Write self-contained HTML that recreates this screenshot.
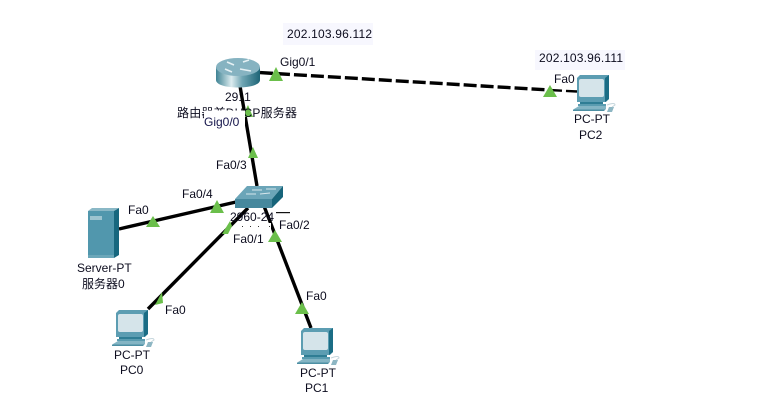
<!DOCTYPE html>
<html>
<head>
<meta charset="utf-8">
<style>
html,body{margin:0;padding:0;background:#fff;width:776px;height:409px;overflow:hidden}
svg{display:block}
text{font-family:"Liberation Sans","Noto Sans CJK SC",sans-serif;font-size:12px;fill:#0c0c1e}
</style>
</head>
<body>
<svg width="776" height="409" viewBox="0 0 776 409" xmlns="http://www.w3.org/2000/svg">
<defs>
<linearGradient id="rg" x1="0" x2="1" y1="0" y2="0">
<stop offset="0" stop-color="#3f8394"/><stop offset=".35" stop-color="#dcecef"/><stop offset=".6" stop-color="#6fa5b3"/><stop offset="1" stop-color="#1d6476"/>
</linearGradient>
<g id="pc">
<polygon points="0,3 3,0 32,0 32,24 29,27 0,27" fill="#5c9db2"/>
<polygon points="28,3 32,0 32,24 28,27" fill="#1b6d85"/>
<rect x="2" y="4" width="25" height="18" rx="2" fill="#d5e4ea"/>
<rect x="3" y="27" width="23" height="2" fill="#2f7d94"/>
<rect x="1" y="29" width="28" height="2" fill="#5a9cb0"/>
<polygon points="2,31 29,31 29,34 27,36 -4,36 -3,34" fill="#84b5c4"/>
<polygon points="-4,34.5 28,34.5 27,36 -4,36" fill="#4d8fa3"/>
<polygon points="32,32 37,32 35,37 30,37" fill="#8db6c3"/>
<path d="M30 30 Q38 27 38 30 L35 32" fill="none" stroke="#c5d6dc" stroke-width="1"/>
</g>
</defs>
<rect width="776" height="409" fill="#fff"/>

<!-- router base labels under the links -->
<text x="225" y="101">2911</text>

<!-- links -->
<g stroke="#000" stroke-width="3.4" fill="none">
<line x1="260" y1="72.6" x2="549" y2="90" stroke-dasharray="13 4"/>
<line x1="549" y1="90" x2="577" y2="91.5" stroke-dasharray="13 4" stroke-width="2.4"/>
<line x1="240" y1="86" x2="257" y2="186"/>
<line x1="236" y1="202" x2="119" y2="229"/>
<line x1="248" y1="208" x2="148" y2="309"/>
<line x1="264" y1="206" x2="311" y2="328"/>
</g>

<!-- router -->
<path d="M216 67 V80 C216 90 260 90 260 80 V67 Z" fill="url(#rg)"/>
<ellipse cx="238" cy="67" rx="22" ry="9" fill="#86b3c1"/>
<g stroke="#e6f1f4" stroke-width="1.6" fill="none">
<path d="M227 62 L234 65 M232 72 L225 69 M243 62 L249 60 M240 69 L251 71"/>
</g>

<!-- switch -->
<polygon points="235,199 247,186 283,186 272,199" fill="#6ba5b8"/>
<polygon points="272,199 283,186 283,197 272,208" fill="#17647a"/>
<rect x="235" y="199" width="37" height="9" fill="#46889d"/>
<g stroke="#d6e6ec" stroke-width="1" fill="none">
<path d="M252 190 L262 190 M266 189 L276 189 M246 194 L256 194 M260 194 L270 193"/>
</g>

<!-- server -->
<polygon points="88,211 92,208 119,208 114,211" fill="#8ab8c6"/>
<rect x="88" y="211" width="26" height="47" fill="#5197ad"/>
<polygon points="114,211 119,208 119,255 114,258" fill="#17677e"/>
<rect x="90" y="216" width="12" height="4" fill="#9cc4d0"/>
<rect x="88" y="255" width="26" height="3" fill="#6ba7b9"/>

<!-- PCs -->
<use href="#pc" x="577" y="75"/>
<use href="#pc" x="116" y="310"/>
<use href="#pc" x="301" y="328"/>

<!-- link lights -->
<g fill="#6bbf4b">
<polygon points="269,81 276,67 283,81"/>
<polygon points="543,97 550,85 557,97"/>
<polygon points="242,117 248,105 253,117"/>
<polygon points="248,158 253,147 258,158"/>
<polygon points="210,213 217,200 224,213"/>
<polygon points="146,227 153,216 160,227"/>
<polygon points="222,234 230,221 232,226 228,234"/>
<polygon points="268,242 275,230 282,242"/>
<polygon points="155,305 162,292 163,303"/>
<polygon points="295,314 302,302 309,314"/>
</g>

<!-- labels -->
<rect x="283" y="23" width="90" height="22" fill="#f7f7fe"/>
<text x="287" y="38" textLength="85" lengthAdjust="spacing">202.103.96.112</text>
<rect x="535" y="50" width="90" height="20" fill="#f7f7fe"/>
<text x="539" y="62" textLength="84" lengthAdjust="spacing">202.103.96.111</text>

<text x="280" y="66">Gig0/1</text>
<text x="554" y="83">Fa0</text>
<text x="574" y="123">PC-PT</text>
<text x="579" y="139">PC2</text>

<text x="177" y="117" textLength="120" lengthAdjust="spacing">路由器兼DHCP服务器</text>
<rect x="204" y="110.5" width="41" height="20" fill="#fff"/>
<text x="204" y="126" style="fill:#14144a">Gig0/0</text>

<text x="216" y="169">Fa0/3</text>
<text x="182" y="198">Fa0/4</text>
<text x="128" y="214">Fa0</text>

<text x="230" y="221">2960-24</text>
<rect x="276" y="212" width="14" height="1.2" fill="#111"/>
<rect x="241" y="223" width="30" height="8" fill="#fff"/>
<rect x="232" y="231" width="33" height="15" fill="#fff"/>
<g fill="#333">
<rect x="242" y="226" width="1" height="1"/><rect x="250" y="226" width="1" height="1"/><rect x="258" y="226" width="1" height="1"/><rect x="269" y="226" width="1" height="1"/>
</g>
<text x="279" y="229">Fa0/2</text>
<text x="233" y="243">Fa0/1</text>

<text x="77" y="272">Server-PT</text>
<text x="82" y="288">服务器0</text>

<text x="165" y="314">Fa0</text>
<text x="306" y="300">Fa0</text>

<text x="114" y="359">PC-PT</text>
<text x="120" y="374">PC0</text>
<text x="300" y="377">PC-PT</text>
<text x="305" y="392">PC1</text>
</svg>
</body>
</html>
